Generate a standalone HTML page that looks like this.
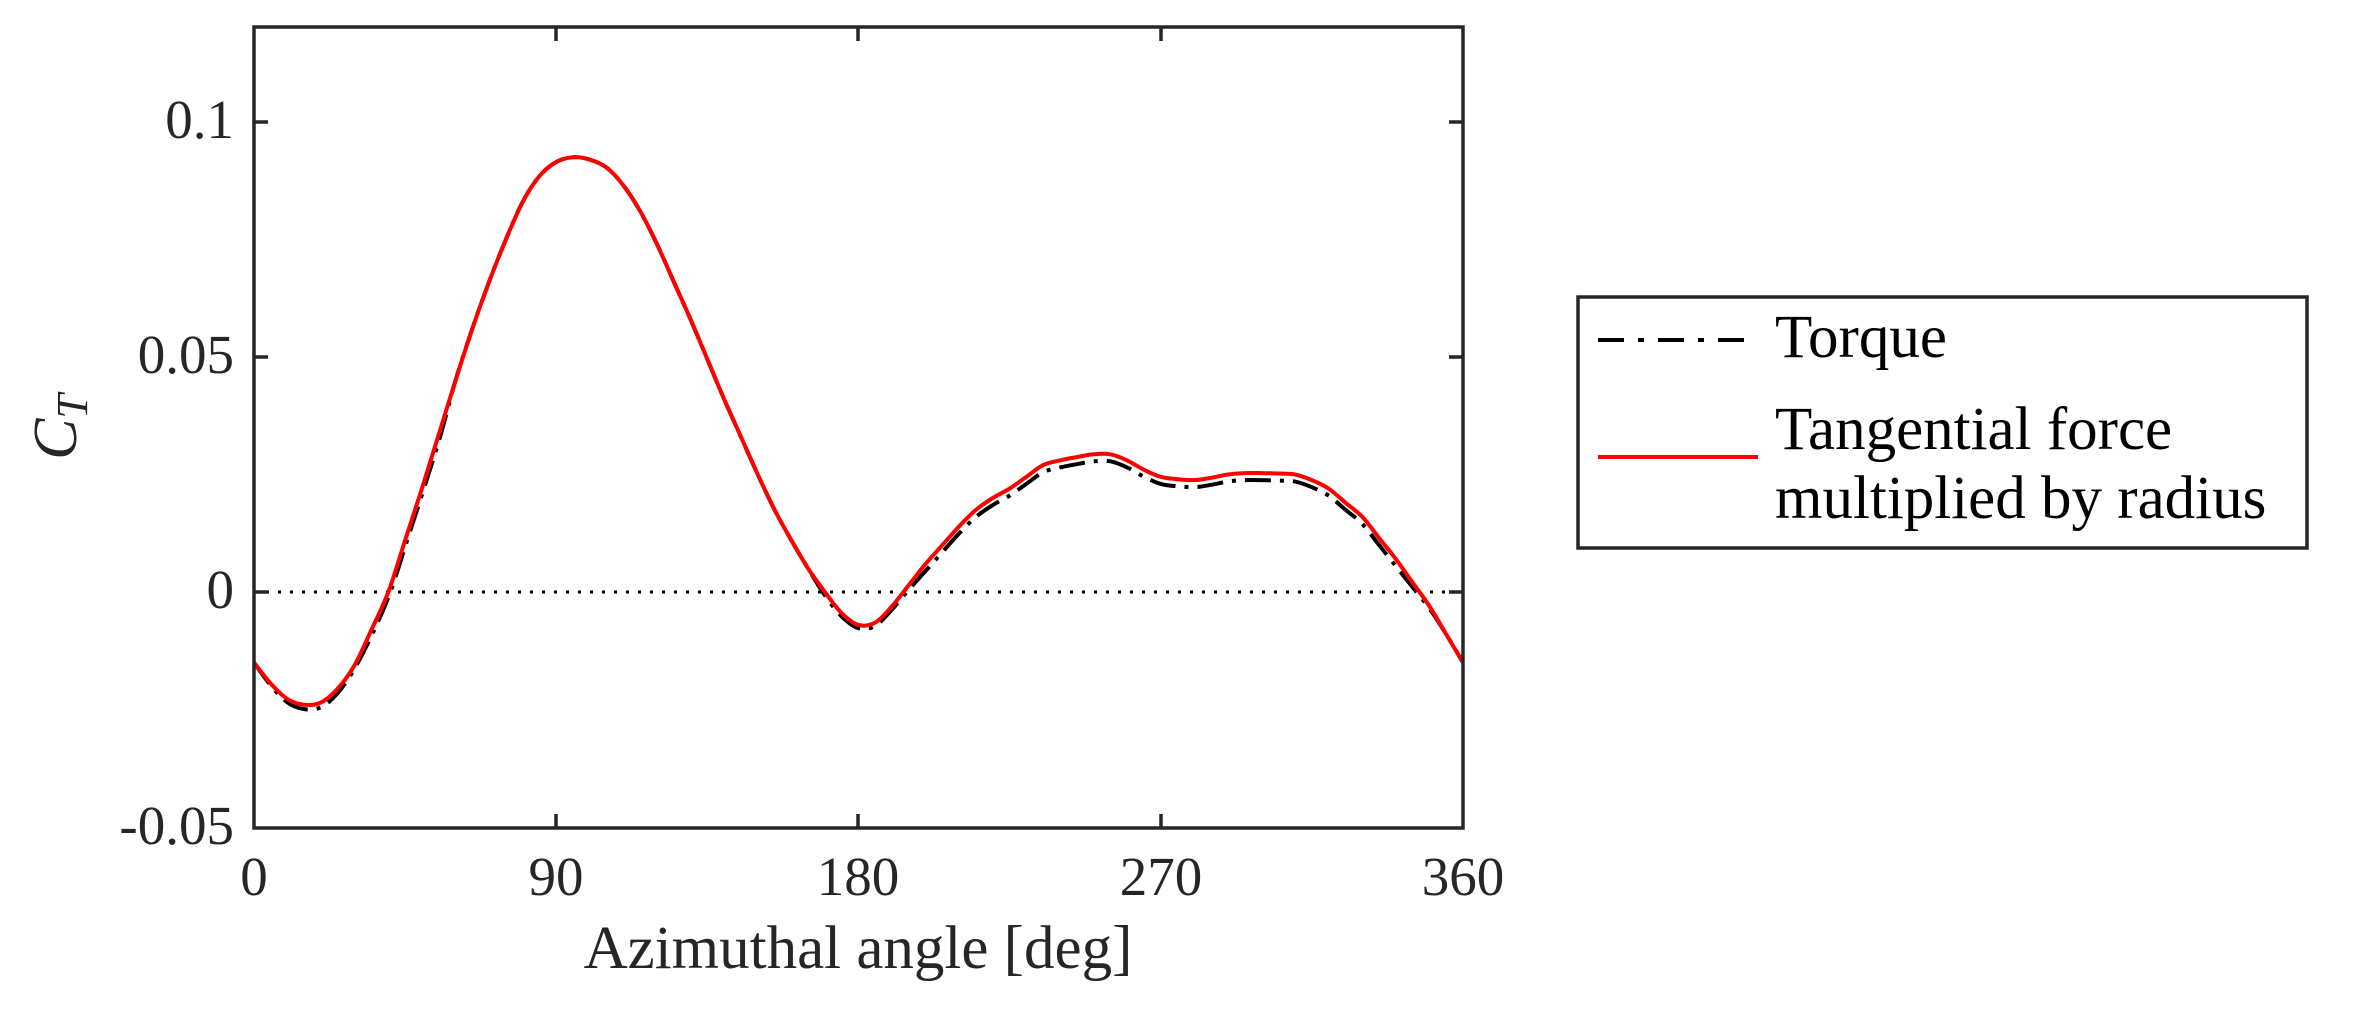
<!DOCTYPE html>
<html><head><meta charset="utf-8"><style>
html,body{margin:0;padding:0;background:#fff;}
svg text{font-family:"Liberation Serif",serif;fill:#262626;}
</style></head><body>
<svg id="s" width="2362" height="1004" viewBox="0 0 2362 1004" xmlns="http://www.w3.org/2000/svg">
<rect width="2362" height="1004" fill="#fff"/>
<line x1="254" y1="592" x2="1463" y2="592" stroke="#000" stroke-width="3" stroke-dasharray="3,9"/>
<path id="blk" fill="none" stroke="#000" stroke-width="4" stroke-dasharray="26,9,4,9"/>
<path id="red" fill="none" stroke="#ff0000" stroke-width="4"/>
<rect x="254" y="27" width="1209" height="801" fill="none" stroke="#262626" stroke-width="3.5"/>
<g stroke="#262626" stroke-width="3.5">
<line x1="556" y1="828" x2="556" y2="814"/><line x1="858" y1="828" x2="858" y2="814"/><line x1="1161" y1="828" x2="1161" y2="814"/>
<line x1="556" y1="27" x2="556" y2="41"/><line x1="858" y1="27" x2="858" y2="41"/><line x1="1161" y1="27" x2="1161" y2="41"/>
<line x1="254" y1="122" x2="268" y2="122"/><line x1="254" y1="357" x2="268" y2="357"/><line x1="254" y1="592" x2="268" y2="592"/>
<line x1="1463" y1="122" x2="1449" y2="122"/><line x1="1463" y1="357" x2="1449" y2="357"/><line x1="1463" y1="592" x2="1449" y2="592"/>
</g>
<g font-size="55" text-anchor="middle">
<text x="254" y="895">0</text><text x="556" y="895">90</text><text x="858" y="895">180</text><text x="1161" y="895">270</text><text x="1463" y="895">360</text>
</g>
<g font-size="55" text-anchor="end">
<text x="234" y="138">0.1</text><text x="234" y="373">0.05</text><text x="234" y="608">0</text><text x="234" y="844">-0.05</text>
</g>
<text x="858" y="968" font-size="61" text-anchor="middle">Azimuthal angle [deg]</text>
<text transform="translate(76,427) rotate(-90)" font-size="62" font-style="italic" text-anchor="middle">C<tspan font-size="44" dy="11">T</tspan></text>
<rect x="1578" y="297" width="729" height="251" fill="#fff" stroke="#262626" stroke-width="3.5"/>
<line x1="1598" y1="340" x2="1758" y2="340" stroke="#000" stroke-width="4" stroke-dasharray="26,14,6,14"/>
<line x1="1598" y1="457" x2="1758" y2="457" stroke="#ff0000" stroke-width="4"/>
<g font-size="61">
<text x="1775" y="357" style="fill:#000">Torque</text>
<text x="1775" y="449" style="fill:#000">Tangential force</text>
<text x="1775" y="518" style="fill:#000">multiplied by radius</text>
</g>
</svg>
<script>
var R=[[0,-.015],[5,-.0195],[10,-.0228],[15,-.024],[20,-.0235],[25,-.0205],[30,-.0155],[35,-.008],[40,0],[45,.011],[50,.022],[55,.0335],[60,.045],[65,.056],[70,.066],[75,.075],[80,.083],[85,.0885],[90,.0915],[95,.0925],[100,.092],[105,.0903],[110,.0865],[115,.081],[120,.074],[125,.066],[130,.058],[135,.0495],[140,.041],[145,.033],[150,.025],[155,.0175],[160,.011],[165,.005],[170,0],[175,-.0045],[180,-.007],[185,-.0065],[190,-.003],[195,.0015],[200,.006],[205,.010],[210,.014],[215,.0175],[220,.020],[225,.022],[230,.0245],[235,.027],[240,.028],[245,.0287],[250,.0293],[255,.0293],[260,.028],[265,.026],[270,.0245],[275,.024],[280,.0238],[285,.0243],[290,.025],[295,.0253],[300,.0253],[305,.0252],[310,.025],[315,.0238],[320,.022],[325,.019],[330,.016],[335,.0115],[340,.007],[345,.002],[350,-.003],[355,-.009],[360,-.015]];
function X(d){return 254+d*1209/360;}function Y(v){return 592-v*4700;}
function path(P){var p=P.map(function(a){return [X(a[0]),Y(a[1])];});var s="M"+p[0][0]+","+p[0][1];
for(var i=0;i<p.length-1;i++){var a=p[Math.max(0,i-1)],b=p[i],c=p[i+1],d=p[Math.min(p.length-1,i+2)];
s+=" C"+(b[0]+(c[0]-a[0])/6)+","+(b[1]+(c[1]-a[1])/6)+" "+(c[0]-(d[0]-b[0])/6)+","+(c[1]-(d[1]-b[1])/6)+" "+c[0]+","+c[1];}return s;}
var B=R.map(function(a){var d=a[0],v=a[1];var off=0;
if(d>=200&&d<=340)off=-0.0015;else if(d>185&&d<200)off=-0.0015*(d-185)/15;else if(d>340&&d<355)off=-0.0015*(355-d)/15;
if(d<40)off=-0.001*Math.sin(Math.PI*d/40);
if(d>=170&&d<=190)off=-0.0007;
return [d+(d>30&&d<60?0.6:0),v+off];});
document.getElementById('red').setAttribute('d',path(R));
document.getElementById('blk').setAttribute('d',path(B));
</script>
</body></html>
